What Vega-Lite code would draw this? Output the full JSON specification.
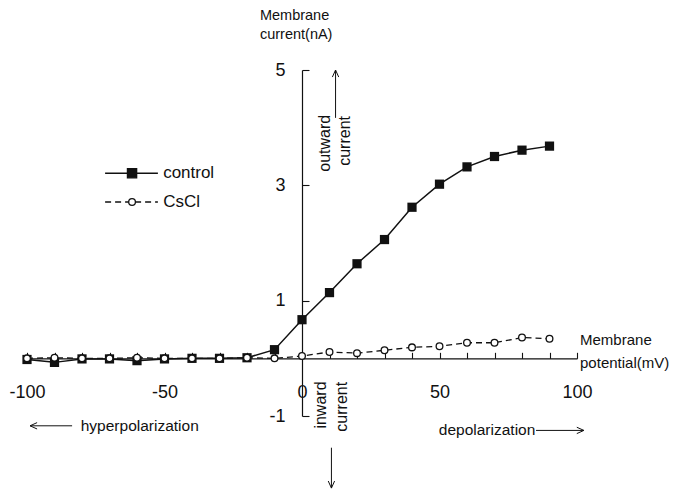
{
  "$schema": "https://vega.github.io/schema/vega-lite/v6.json",
  "width": 550,
  "height": 346,
  "autosize": {"type": "none"},
  "padding": {"left": 27, "top": 70, "right": 101, "bottom": 77},
  "background": "white",
  "config": {
    "view": {"stroke": null},
    "font": "Liberation Sans",
    "axis": {
      "grid": false,
      "domainColor": "#111",
      "domainWidth": 1.2,
      "tickColor": "#111",
      "tickWidth": 1.1,
      "labelColor": "#111",
      "labelFont": "Liberation Sans",
      "labelFontSize": 18,
      "labelFlush": false,
      "labelOverlap": false
    }
  },
  "resolve": {"scale": {"shape": "independent", "size": "independent", "fill": "independent", "strokeDash": "independent"}},
  "datasets": {
    "iv": [
      {"trace": "control", "mV": -100, "nA": -0.02},
      {"trace": "control", "mV": -90, "nA": -0.07},
      {"trace": "control", "mV": -80, "nA": -0.01},
      {"trace": "control", "mV": -70, "nA": -0.01},
      {"trace": "control", "mV": -60, "nA": -0.04},
      {"trace": "control", "mV": -50, "nA": -0.01},
      {"trace": "control", "mV": -40, "nA": 0},
      {"trace": "control", "mV": -30, "nA": 0},
      {"trace": "control", "mV": -20, "nA": 0.01},
      {"trace": "control", "mV": -10, "nA": 0.15},
      {"trace": "control", "mV": 0, "nA": 0.67},
      {"trace": "control", "mV": 10, "nA": 1.14},
      {"trace": "control", "mV": 20, "nA": 1.64},
      {"trace": "control", "mV": 30, "nA": 2.06},
      {"trace": "control", "mV": 40, "nA": 2.62},
      {"trace": "control", "mV": 50, "nA": 3.02},
      {"trace": "control", "mV": 60, "nA": 3.32},
      {"trace": "control", "mV": 70, "nA": 3.5},
      {"trace": "control", "mV": 80, "nA": 3.61},
      {"trace": "control", "mV": 90, "nA": 3.68},
      {"trace": "CsCl", "mV": -100, "nA": 0},
      {"trace": "CsCl", "mV": -90, "nA": 0.01},
      {"trace": "CsCl", "mV": -80, "nA": 0},
      {"trace": "CsCl", "mV": -70, "nA": 0},
      {"trace": "CsCl", "mV": -60, "nA": 0.01},
      {"trace": "CsCl", "mV": -50, "nA": 0},
      {"trace": "CsCl", "mV": -40, "nA": 0},
      {"trace": "CsCl", "mV": -30, "nA": 0},
      {"trace": "CsCl", "mV": -20, "nA": 0.01},
      {"trace": "CsCl", "mV": -10, "nA": 0.0},
      {"trace": "CsCl", "mV": 0, "nA": 0.04},
      {"trace": "CsCl", "mV": 10, "nA": 0.11},
      {"trace": "CsCl", "mV": 20, "nA": 0.09},
      {"trace": "CsCl", "mV": 30, "nA": 0.14},
      {"trace": "CsCl", "mV": 40, "nA": 0.19},
      {"trace": "CsCl", "mV": 50, "nA": 0.21},
      {"trace": "CsCl", "mV": 60, "nA": 0.27},
      {"trace": "CsCl", "mV": 70, "nA": 0.27},
      {"trace": "CsCl", "mV": 80, "nA": 0.36},
      {"trace": "CsCl", "mV": 90, "nA": 0.34}
    ],
    "legendLines": [
      {"trace": "control", "mV": -71.6, "mV2": -52.4, "nA": 3.21},
      {"trace": "CsCl", "mV": -71.6, "mV2": -52.4, "nA": 2.71}
    ],
    "legendMarks": [
      {"trace": "control", "mV": -61.8, "nA": 3.21},
      {"trace": "CsCl", "mV": -61.8, "nA": 2.71}
    ],
    "legendText": [
      {"text": "control", "mV": -50.5, "nA": 3.21},
      {"text": "CsCl", "mV": -50.5, "nA": 2.71}
    ],
    "yTitle": [
      {"text": "Membrane", "mV": -15.3, "nA": 5.94},
      {"text": "current(nA)", "mV": -15.3, "nA": 5.61}
    ],
    "xTitle": [
      {"text": "Membrane", "mV": 101.1, "nA": 0.32},
      {"text": "potential(mV)", "mV": 101.1, "nA": -0.08}
    ],
    "direction": [
      {"text": "hyperpolarization", "mV": -59, "nA": -1.17},
      {"text": "depolarization", "mV": 67.3, "nA": -1.25}
    ],
    "currentNotes": [
      {"text": "outward", "mV": 8.4, "nA": 3.73},
      {"text": "current", "mV": 15.6, "nA": 3.77},
      {"text": "inward", "mV": 6.9, "nA": -0.81},
      {"text": "current", "mV": 14.5, "nA": -0.84}
    ],
    "arrows": [
      {"dir": "up", "mV": 12.2, "nA": 4.17, "mV2": 12.2, "nA2": 5.0},
      {"dir": "down", "mV": 10.7, "nA": -1.55, "mV2": 10.7, "nA2": -2.25},
      {"dir": "left", "mV": -83.6, "nA": -1.17, "mV2": -98.9, "nA2": -1.17},
      {"dir": "right", "mV": 85.1, "nA": -1.25, "mV2": 102.5, "nA2": -1.25}
    ]
  },
  "encoding": {
    "x": {
      "field": "mV",
      "type": "quantitative",
      "scale": {"domain": [-100, 100], "nice": false, "zero": false},
      "axis": {
        "orient": "bottom",
        "offset": -57.67,
        "title": null,
        "values": [-100, -90, -80, -70, -60, -50, -40, -30, -20, -10, 0, 10, 20, 30, 40, 50, 60, 70, 80, 90, 100],
        "tickSize": -6,
        "labelPadding": 31,
        "labelExpr": "datum.value % 50 === 0 ? '' + datum.value : ''"
      }
    },
    "y": {
      "field": "nA",
      "type": "quantitative",
      "scale": {"domain": [-1, 5], "nice": false, "zero": false},
      "axis": {
        "orient": "left",
        "offset": -275,
        "title": null,
        "values": [-1, 1, 3, 5],
        "tickSize": -7,
        "labelPadding": 24,
        "labelExpr": "'' + datum.value"
      }
    }
  },
  "layer": [
    {
      "data": {"name": "iv"},
      "transform": [{"filter": "datum.trace === 'control'"}],
      "mark": {"type": "line", "color": "#111", "strokeWidth": 1.5}
    },
    {
      "data": {"name": "iv"},
      "transform": [{"filter": "datum.trace === 'CsCl'"}],
      "mark": {"type": "line", "color": "#111", "strokeWidth": 1.3, "strokeDash": [6, 4]}
    },
    {
      "data": {"name": "legendLines"},
      "mark": {"type": "rule", "color": "#111", "strokeWidth": 1.4},
      "encoding": {
        "x2": {"field": "mV2"},
        "strokeDash": {
          "field": "trace",
          "type": "nominal",
          "scale": {"domain": ["control", "CsCl"], "range": [[1, 0], [6, 4]]},
          "legend": null
        }
      }
    },
    {
      "data": {"name": "iv"},
      "transform": [{"filter": "datum.trace === 'control'"}],
      "mark": {"type": "point", "shape": "square", "size": 85, "filled": true, "color": "#111", "opacity": 1}
    },
    {
      "data": {"name": "iv"},
      "transform": [{"filter": "datum.trace === 'CsCl'"}],
      "mark": {"type": "point", "shape": "circle", "size": 45, "fill": "white", "stroke": "#111", "strokeWidth": 1.3, "opacity": 1, "fillOpacity": 1}
    },
    {
      "data": {"name": "legendMarks"},
      "mark": {"type": "point", "opacity": 1, "strokeWidth": 1.3, "stroke": "#111", "fillOpacity": 1},
      "encoding": {
        "shape": {"field": "trace", "type": "nominal", "scale": {"domain": ["control", "CsCl"], "range": ["square", "circle"]}, "legend": null},
        "fill": {"field": "trace", "type": "nominal", "scale": {"domain": ["control", "CsCl"], "range": ["#111", "white"]}, "legend": null},
        "size": {"field": "trace", "type": "nominal", "scale": {"domain": ["control", "CsCl"], "range": [85, 45]}, "legend": null}
      }
    },
    {
      "data": {"name": "legendText"},
      "mark": {"type": "text", "align": "left", "baseline": "middle", "fontSize": 17, "color": "#111"},
      "encoding": {"text": {"field": "text"}}
    },
    {
      "data": {"name": "yTitle"},
      "mark": {"type": "text", "align": "left", "baseline": "middle", "fontSize": 14.5, "color": "#111"},
      "encoding": {"text": {"field": "text"}}
    },
    {
      "data": {"name": "xTitle"},
      "mark": {"type": "text", "align": "left", "baseline": "middle", "fontSize": 15, "color": "#111"},
      "encoding": {"text": {"field": "text"}}
    },
    {
      "data": {"name": "direction"},
      "mark": {"type": "text", "align": "center", "baseline": "middle", "fontSize": 15.5, "color": "#111"},
      "encoding": {"text": {"field": "text"}}
    },
    {
      "data": {"name": "currentNotes"},
      "mark": {"type": "text", "align": "center", "baseline": "middle", "fontSize": 16, "angle": 270, "color": "#111"},
      "encoding": {"text": {"field": "text"}}
    },
    {
      "data": {"name": "arrows"},
      "mark": {"type": "rule", "color": "#111", "strokeWidth": 1},
      "encoding": {
        "x2": {"field": "mV2"},
        "y2": {"field": "nA2"}
      }
    },
    {
      "data": {"name": "arrows"},
      "mark": {"type": "point", "filled": false, "stroke": "#111", "strokeWidth": 1, "size": 200, "opacity": 1},
      "encoding": {
        "x": {"field": "mV2", "type": "quantitative"},
        "y": {"field": "nA2", "type": "quantitative"},
        "shape": {
          "field": "dir",
          "type": "nominal",
          "scale": {
            "domain": ["up", "down", "left", "right"],
            "range": ["M -0.45 1 L 0 0 L 0.45 1", "M -0.45 -1 L 0 0 L 0.45 -1", "M 1 -0.45 L 0 0 L 1 0.45", "M -1 -0.45 L 0 0 L -1 0.45"]
          },
          "legend": null
        }
      }
    }
  ]
}
